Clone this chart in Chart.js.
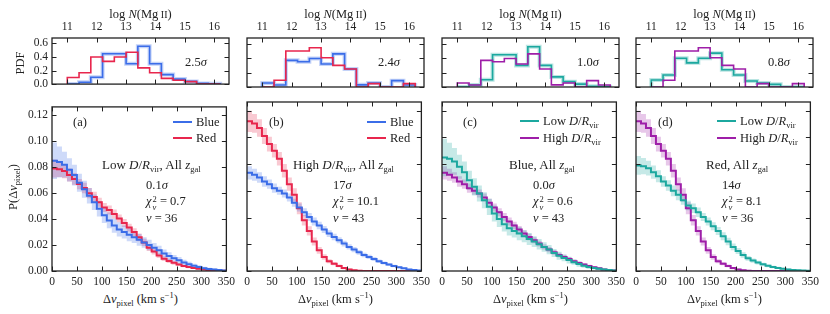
<!DOCTYPE html>
<html>
<head>
<meta charset="utf-8">
<script src="https://cdn.jsdelivr.net/npm/chart.js@4/dist/chart.umd.min.js"></script>
<style>
body { margin: 0; background: #fff; }
#wrap { position: relative; width: 830px; height: 314px; overflow: hidden; font-family: "Liberation Serif", serif; color: #222; }
canvas { position: absolute; }
.t { position: absolute; font-size: 12.5px; line-height: 14px; white-space: nowrap; }
.g { font-size: 13px; }
.c { transform: translateX(-50%); }
.r { transform: translate(-50%, -50%) rotate(-90deg); }
sub { font-size: 8.5px; vertical-align: -2.5px; line-height: 0; }
sup { font-size: 8.5px; vertical-align: 5px; line-height: 0; }
.ss { display: inline-block; vertical-align: -5px; font-size: 8.5px; line-height: 8px; margin-left: 1px; }
.ss span { display: block; }
.sc { font-size: 10px; }
.sw { display: inline-block; width: 19px; height: 2px; vertical-align: 3px; margin-right: 4px; }
</style>
</head>
<body>
<div id="wrap"></div>
<script>
// bordes de los bines (km/s) y de log N
const vEdges = [0,10,20,30,40,50,60,70,80,90,100,110,120,130,140,150,160,170,180,190,200,
                210,220,230,240,250,260,270,280,290,300,310,320,330,340,350];
const nEdges = [11.0,11.4,11.8,12.2,12.6,13.0,13.4,13.8,14.2,14.6,15.0,15.4,15.8,16.2];

// ticks
const vTicks = [0,50,100,150,200,250,300,350];
const pTicks = [0,0.02,0.04,0.06,0.08,0.10,0.12];
const nTicks = [11,12,13,14,15,16];
const pdfTicks = [0,0.2,0.4,0.6];

// P(dv_pixel): galaxias azules/rojas, D/Rvir bajo/alto
const blueLow = [0.085,0.084,0.082,0.078,0.074,0.068,0.063,0.058,0.053,0.048,0.043,0.039,0.035,0.032,0.030,0.028,0.026,0.024,0.022,0.020,
                 0.018,0.016,0.0135,0.0115,0.0098,0.0082,0.0066,0.0052,0.004,0.003,0.0022,0.0016,0.0011,0.0007,0.0004];
const blueLowErr = [0.014,0.012,0.010,0.009,0.008,0.007,0.0065,0.006,0.006,0.006,0.006,0.006,0.0055,0.0055,0.005,0.005,0.0045,0.0045,0.004,0.004,
                    0.0035,0.0035,0.003,0.003,0.0025,0.0025,0.002,0.002,0.0015,0.0015,0.001,0.001,0.0008,0.0006,0.0004];
const redLow = [0.079,0.0785,0.077,0.074,0.071,0.067,0.064,0.060,0.057,0.053,0.049,0.047,0.044,0.0405,0.037,0.0335,0.030,0.026,0.022,0.018,
                0.015,0.012,0.0095,0.0078,0.0063,0.005,0.0039,0.003,0.0023,0.0017,0.0012,0.0008,0.0005,0.0003,0.0001];
const redLowErr = [0.007,0.006,0.0055,0.005,0.0045,0.004,0.004,0.004,0.004,0.0035,0.0035,0.0035,0.0035,0.003,0.003,0.003,0.003,0.003,0.0028,0.0025,
                   0.0022,0.002,0.0018,0.0016,0.0014,0.0012,0.001,0.0009,0.0008,0.0007,0.0006,0.0005,0.0004,0.0003,0.0002];
const blueHigh = [0.0735,0.072,0.070,0.067,0.065,0.062,0.060,0.058,0.055,0.051,0.0475,0.044,0.0405,0.037,0.034,0.031,0.028,0.0255,0.023,0.0205,
                  0.018,0.016,0.014,0.012,0.0105,0.009,0.0073,0.006,0.0048,0.0038,0.0028,0.002,0.0012,0.0008,0.0003];
const blueHighErr = [0.005,0.0045,0.004,0.004,0.0035,0.0035,0.003,0.003,0.003,0.003,0.003,0.003,0.003,0.003,0.0028,0.0026,0.0025,0.0024,0.0023,0.0022,
                     0.002,0.002,0.0018,0.0017,0.0016,0.0015,0.0013,0.0012,0.001,0.0009,0.0008,0.0006,0.0005,0.0004,0.0003];
const redHigh = [0.112,0.1105,0.107,0.101,0.095,0.090,0.084,0.075,0.065,0.057,0.047,0.038,0.030,0.022,0.0155,0.0105,0.0073,0.0055,0.0038,0.0022,
                 0.0012,0.0005,0.0002,0,0,0,0,0,0,0,0,0,0,0,0];
const redHighErr = [0.008,0.007,0.0065,0.006,0.0055,0.005,0.005,0.005,0.005,0.005,0.0045,0.004,0.0035,0.003,0.0025,0.002,0.0015,0.0012,0.001,0.0008,
                    0.0006,0.0004,0.0002,0,0,0,0,0,0,0,0,0,0,0,0];

// PDF de log N(MgII)
const blueLowPdf  = [0,0.028,0.10,0.447,0.447,0.30,0.558,0.30,0.14,0.074,0.04,0.01,0.005];
const redLowPdf   = [0.098,0.167,0.40,0.335,0.40,0.47,0.24,0.167,0.084,0.056,0.037,0,0];
const blueHighPdf = [0.056,0.028,0.37,0.35,0.395,0.32,0.46,0.25,0.03,0.056,0,0.088,0.028];
const redHighPdf  = [0,0.093,0.50,0.50,0.545,0.405,0.30,0.25,0,0.047,0,0,0.047];

const BLUE = '#3b6de8', RED = '#e8264d', TEAL = '#1ca89f', PURPLE = '#9e1ea8';
const colL = [52, 247, 442, 636];   // borde izquierdo de cada columna
const panelW = 177;

const paneles = [
  { a: [blueLow, blueLowErr, BLUE, blueLowPdf], b: [redLow, redLowErr, RED, redLowPdf] },
  { a: [blueHigh, blueHighErr, BLUE, blueHighPdf], b: [redHigh, redHighErr, RED, redHighPdf] },
  { a: [blueLow, blueLowErr, TEAL, blueLowPdf], b: [blueHigh, blueHighErr, PURPLE, blueHighPdf] },
  { a: [redLow, redLowErr, TEAL, redLowPdf], b: [redHigh, redHighErr, PURPLE, redHighPdf] }
];

function alpha(hex, a) {
  const n = parseInt(hex.slice(1), 16);
  return `rgba(${n >> 16},${(n >> 8) & 255},${n & 255},${a})`;
}

// puntos para la curva escalonada
function curva(vals, f) {
  const pts = vals.map((v, i) => ({ x: vEdges[i], y: f ? f(v, i) : v }));
  pts.push({ x: vEdges[vals.length], y: pts[pts.length - 1].y });
  return pts;
}
function hist(vals) {
  const pts = [{ x: nEdges[0], y: 0 }];
  vals.forEach((v, i) => pts.push({ x: nEdges[i], y: v }));
  pts.push({ x: nEdges[vals.length], y: 0 });
  return pts;
}

// marco con ticks hacia adentro
const marco = {
  id: 'marco',
  afterDraw(chart) {
    const { ctx, chartArea: a, scales } = chart;
    ctx.save();
    ctx.strokeStyle = '#222';
    ctx.lineWidth = 1;
    const tl = 4.5;
    ctx.beginPath();
    scales.x.ticks.forEach(t => {
      const px = Math.round(scales.x.getPixelForValue(t.value)) + 0.5;
      ctx.moveTo(px, a.bottom); ctx.lineTo(px, a.bottom - tl);
      ctx.moveTo(px, a.top); ctx.lineTo(px, a.top + tl);
    });
    scales.y.ticks.forEach(t => {
      const py = Math.round(scales.y.getPixelForValue(t.value)) + 0.5;
      ctx.moveTo(a.left, py); ctx.lineTo(a.left + tl, py);
      ctx.moveTo(a.right, py); ctx.lineTo(a.right - tl, py);
    });
    ctx.stroke();
    ctx.lineWidth = 1.3;
    ctx.strokeRect(a.left, a.top, a.right - a.left, a.bottom - a.top);
    ctx.restore();
  }
};

const wrap = document.getElementById('wrap');
function lienzo(x, y, w, h) {
  const c = document.createElement('canvas');
  c.width = w; c.height = h;
  c.style.left = x + 'px'; c.style.top = y + 'px';
  wrap.appendChild(c);
  return c;
}

function escala(min, max, ticks, fmt, show, extra) {
  return Object.assign({
    type: 'linear', min: min, max: max,
    grid: { display: false, drawTicks: false },
    border: { display: false },
    afterBuildTicks: s => { s.ticks = ticks.map(v => ({ value: v })); },
    ticks: { display: show, autoSkip: false, maxRotation: 0, color: '#222', padding: 4,
             font: { family: 'Liberation Serif', size: 11.5 }, callback: fmt }
  }, extra);
}

const comunes = {
  responsive: false, animation: false, events: [],
  plugins: { legend: { display: false }, tooltip: { enabled: false } },
  elements: { point: { radius: 0 }, line: { tension: 0 } }
};

paneles.forEach((p, i) => {
  const x0 = colL[i] - 50;

  // panel inferior
  const dsB = [];
  [p.a, p.b].forEach(s => {
    dsB.push({ data: curva(s[0]), borderColor: s[2], borderWidth: 2, stepped: 'before', fill: false, order: 0 });
  });
  [p.a, p.b].forEach(s => {
    dsB.push({ data: curva(s[0], (v, j) => v + s[1][j]), borderWidth: 0, stepped: 'before',
               fill: '+1', backgroundColor: alpha(s[2], 0.25), order: 1 });
    dsB.push({ data: curva(s[0], (v, j) => Math.max(0, v - s[1][j])), borderWidth: 0, stepped: 'before',
               fill: false, order: 1 });
  });
  new Chart(lienzo(x0, 96, 50 + panelW + 10, 190), {
    type: 'line',
    data: { datasets: dsB },
    options: Object.assign({}, comunes, {
      layout: { padding: { top: 6, right: 10, left: 0, bottom: 0 } },
      scales: {
        x: escala(0, 350, vTicks, v => String(v), true, { afterFit: s => { s.height = 15; } }),
        y: escala(0, 0.1265, pTicks, v => v.toFixed(2), i === 0, { afterFit: s => { s.width = 50; } })
      }
    }),
    plugins: [marco]
  });

  // panel superior
  const dsT = [];
  dsT.push({ data: hist(p.b[3]), borderColor: p.b[2], borderWidth: 1.6, stepped: 'before', fill: false, order: 0 });
  dsT.push({ data: hist(p.a[3]), borderColor: p.a[2], borderWidth: 1.6, stepped: 'before', fill: false, order: 0 });
  dsT.push({ data: hist(p.a[3]), borderColor: alpha(p.a[2], 0.3), borderWidth: 4, stepped: 'before', fill: false, order: 1 });
  new Chart(lienzo(x0, 0, 50 + panelW + 10, 95), {
    type: 'line',
    data: { datasets: dsT },
    options: Object.assign({}, comunes, {
      layout: { padding: { top: 0, right: 10, left: 0, bottom: 8 } },
      scales: {
        x: escala(10.48, 16.5, nTicks, v => String(v), true, { position: 'top', afterFit: s => { s.height = 38; } }),
        y: escala(0, 0.68, pdfTicks, v => v.toFixed(1), i === 0, { afterFit: s => { s.width = 50; } })
      }
    }),
    plugins: [marco]
  });
});

// textos
function txt(x, y, html, cls) {
  const d = document.createElement('div');
  d.className = 't' + (cls ? ' ' + cls : '');
  d.style.left = x + 'px';
  d.style.top = (cls === 'r' ? y : y - 7) + 'px';
  d.innerHTML = html;
  wrap.appendChild(d);
}
const DR = '<i>D</i>/<i>R</i><sub>vir</sub>';
const ZG = '<i>z</i><sub>gal</sub>';
const chi = v => '<i>χ</i><span class="ss"><span>2</span><span><i>ν</i></span></span> = ' + v;

colL.forEach(L => {
  txt(L + panelW / 2, 14, 'log <i>N</i>(Mg<span class="sc"> II</span>)', 'c');
  txt(L + panelW / 2, 299, 'Δ<i>v</i><sub>pixel</sub> (km s<sup>−1</sup>)', 'c');
});
txt(20, 63, 'PDF', 'r');
txt(13, 187, 'P(Δ<i>v</i><sub>pixel</sub>)', 'r');

const sig = ['2.5', '2.4', '1.0', '0.8'];
const sigX = [185, 378, 577, 768];
sig.forEach((s, i) => txt(sigX[i], 62, s + '<i>σ</i>'));

const sw = c => `<span class="sw" style="background:${c}"></span>`;
// (a)
txt(73, 122, '(a)');
txt(173, 122, sw(BLUE) + 'Blue');
txt(173, 138, sw(RED) + 'Red');
txt(102, 165, 'Low ' + DR + ', All ' + ZG, 'g');
txt(146, 185, '0.1<i>σ</i>');
txt(146, 201, chi('0.7'));
txt(146, 218, '<i>ν</i> = 36');
// (b)
txt(269, 122, '(b)');
txt(367, 122, sw(BLUE) + 'Blue');
txt(367, 138, sw(RED) + 'Red');
txt(293, 165, 'High ' + DR + ', All ' + ZG, 'g');
txt(333, 185, '17<i>σ</i>');
txt(333, 201, chi('10.1'));
txt(333, 218, '<i>ν</i> = 43');
// (c)
txt(463, 122, '(c)');
txt(520, 121, sw(TEAL) + 'Low ' + DR);
txt(520, 138, sw(PURPLE) + 'High ' + DR);
txt(509, 165, 'Blue, All ' + ZG, 'g');
txt(533, 185, '0.0<i>σ</i>');
txt(533, 201, chi('0.6'));
txt(533, 218, '<i>ν</i> = 43');
// (d)
txt(658, 122, '(d)');
txt(717, 121, sw(TEAL) + 'Low ' + DR);
txt(717, 138, sw(PURPLE) + 'High ' + DR);
txt(706, 165, 'Red, All ' + ZG, 'g');
txt(722, 185, '14<i>σ</i>');
txt(722, 201, chi('8.1'));
txt(722, 218, '<i>ν</i> = 36');
</script>
</body>
</html>
